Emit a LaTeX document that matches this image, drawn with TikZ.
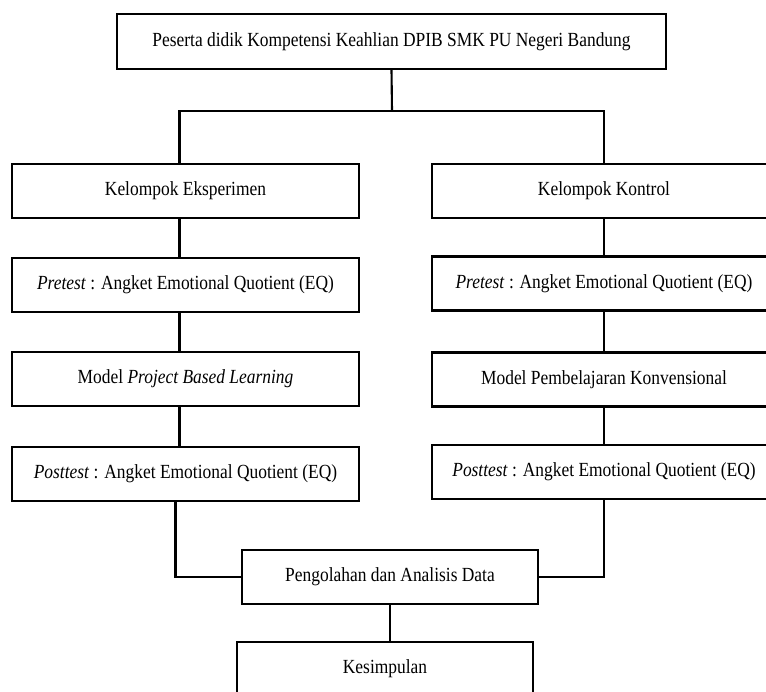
\documentclass[tikz,border=0pt]{standalone}
\usepackage{fontspec}
\setmainfont{Liberation Serif}[FakeStretch=0.87]
\usepackage{tikz}

\tikzset{
  kotak/.style={draw, line width=1.2pt, minimum height=1.08cm, inner sep=2pt, font=\fontsize{11.4}{13}\selectfont},
  garis/.style={line width=1.2pt},
}

\begin{document}
\begin{tikzpicture}[x=0.02cm,y=-0.02cm]
		\useasboundingbox(0,0)rectangle(766,691);
		\clip(0,0)rectangle(766,691);
		% atas
		\node[kotak,minimum width=10.98cm,minimum height=1.1cm](peserta)at(391.5,41.5){Peserta didik Kompetensi Keahlian DPIB SMK PU Negeri Bandung};
		\coordinate(cabang)at(392,111);
		% kelompok eksperimen
		\node[kotak,minimum width=6.94cm](eks)at(185.5,191){Kelompok Eksperimen};
		\node[kotak,minimum width=6.94cm](preEks)at(185.5,285){\textit{Pretest} : Angket Emotional Quotient (EQ)};
		\node[kotak,minimum width=6.94cm](modEks)at(185.5,379){Model \textit{Project Based Learning}};
		\node[kotak,minimum width=6.94cm](postEks)at(185.5,474){\textit{Posttest} : Angket Emotional Quotient (EQ)};
		% kelompok kontrol
		\node[kotak,minimum width=6.88cm](kon)at(604,191){Kelompok Kontrol};
		\node[kotak,minimum width=6.88cm](preKon)at(604,283.5){\textit{Pretest} : Angket Emotional Quotient (EQ)};
		\node[kotak,minimum width=6.88cm](modKon)at(604,379.5){Model Pembelajaran Konvensional};
		\node[kotak,minimum width=6.88cm](postKon)at(604,472){\textit{Posttest} : Angket Emotional Quotient (EQ)};
		% bawah
		\node[kotak,minimum width=5.92cm](olah)at(390,577){Pengolahan dan Analisis Data};
		\node[kotak,minimum width=5.92cm](simpul)at(385,669){Kesimpulan};
		% garis
		\draw[garis](peserta.south)--(cabang);
		\draw[garis]([xshift=-.12cm]eks.north)|-(cabang)-|(kon.north);
		\draw[garis]([xshift=-.12cm]eks.south)--([xshift=-.12cm]preEks.north);
		\draw[garis]([xshift=-.12cm]preEks.south)--([xshift=-.12cm]modEks.north);
		\draw[garis]([xshift=-.12cm]modEks.south)--([xshift=-.12cm]postEks.north);
		\draw[garis](kon)--(preKon);
		\draw[garis](preKon)--(modKon);
		\draw[garis](modKon)--(postKon);
		\draw[garis]([xshift=-.2cm]postEks.south)|-(olah.west);
		\draw[garis](postKon.south)|-(olah.east);
		\draw[garis](olah.south)--(olah.south|-simpul.north);
	\end{tikzpicture}
\end{document}
